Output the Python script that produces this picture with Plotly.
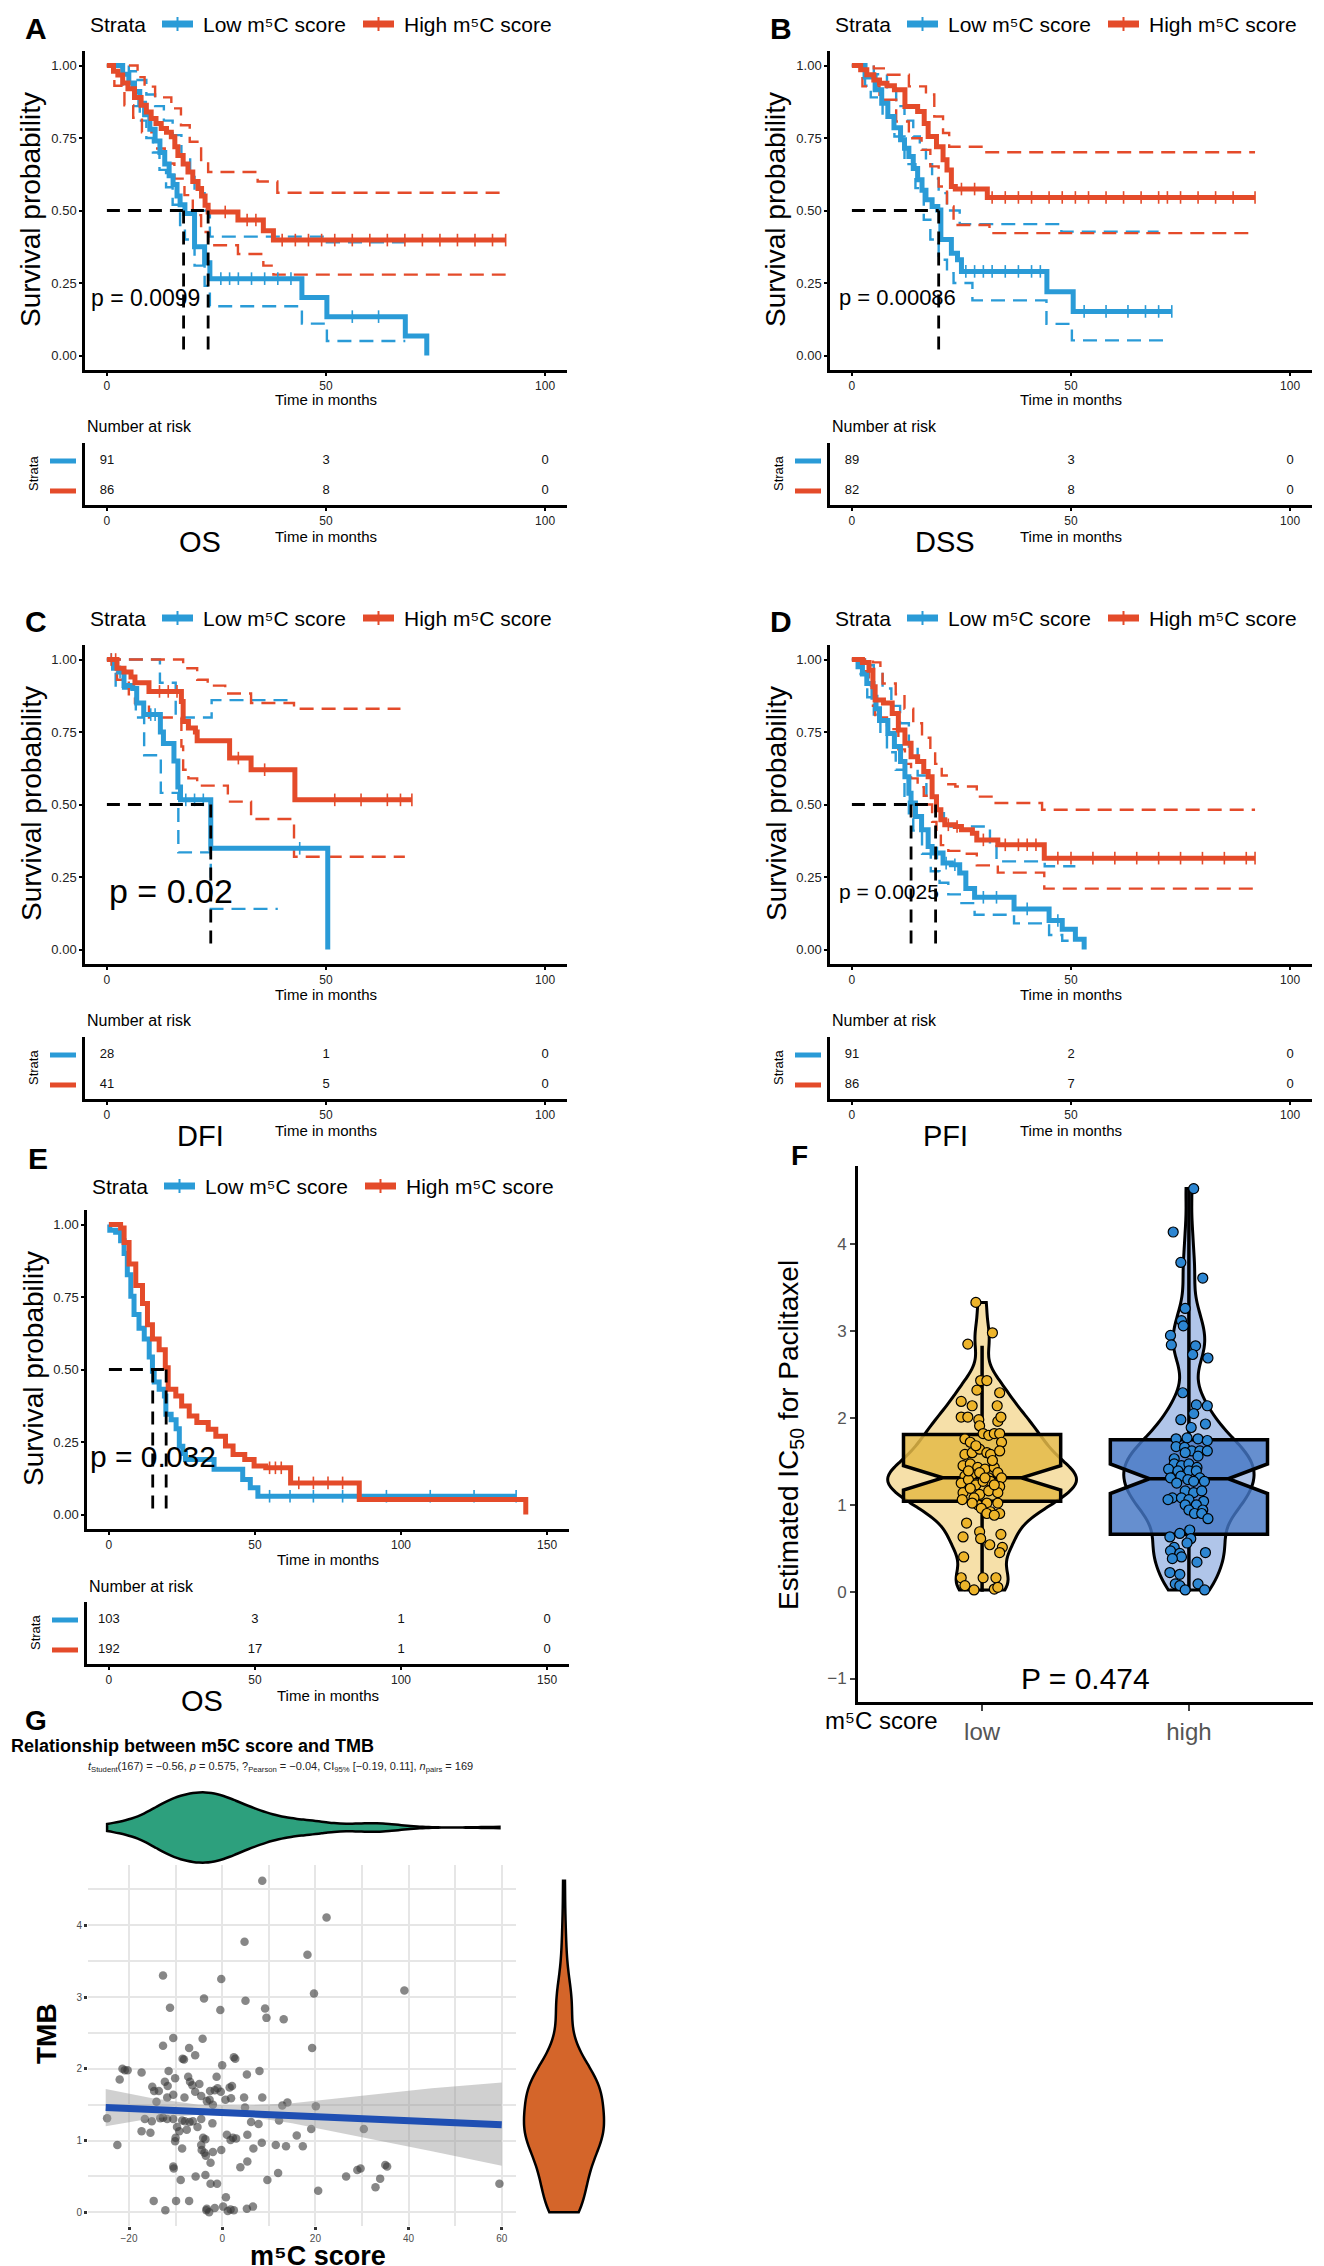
import numpy as np
import plotly.graph_objects as go

W, H = 1324, 2266
FONT = "Liberation Sans, Arial, Helvetica, sans-serif"
BLUE = "#2A9BD7"
RED = "#E44B2A"

# ---------------- A : OS ----------------
A_LOW_T = [0, 3.6, 5.0, 6.3, 7.5, 8.6, 9.8, 11.0, 12.1, 13.2, 14.2, 15.1, 16.0, 16.7, 17.8, 20.0, 22.3, 23.5, 44.5, 50.2, 68.1, 73.0]
A_LOW_S = [1.0, 0.97, 0.94, 0.91, 0.87, 0.83, 0.78, 0.74, 0.70, 0.66, 0.62, 0.59, 0.55, 0.52, 0.49, 0.375, 0.32, 0.265, 0.20, 0.134, 0.067, 0.0]
A_LOW_HI_T = [0, 5.0, 7.0, 9.0, 11.0, 13.0, 15.0, 17.0, 19.0, 20.0, 22.3, 23.5, 50.2, 68.1]
A_LOW_HI_S = [1.0, 0.98, 0.95, 0.90, 0.86, 0.81, 0.76, 0.69, 0.62, 0.56, 0.50, 0.41, 0.39, 0.39]
A_LOW_LO_T = [0, 3.6, 6.0, 7.5, 9.0, 10.5, 12.0, 13.5, 15.0, 16.7, 17.8, 20.0, 22.3, 23.5, 44.5, 50.2, 68.1]
A_LOW_LO_S = [1.0, 0.93, 0.86, 0.81, 0.75, 0.70, 0.64, 0.58, 0.52, 0.45, 0.40, 0.31, 0.24, 0.17, 0.11, 0.05, 0.05]
A_HIGH_T = [0, 1.5, 2.5, 3.6, 4.8, 6.3, 7.8, 9.0, 10.1, 11.2, 12.4, 13.6, 14.7, 15.5, 16.2, 17.4, 18.5, 19.6, 20.8, 21.6, 22.4, 23.1, 29.9, 35.7, 38.0, 91.0]
A_HIGH_S = [1.0, 0.98, 0.967, 0.94, 0.92, 0.89, 0.863, 0.84, 0.817, 0.80, 0.783, 0.77, 0.754, 0.72, 0.69, 0.66, 0.633, 0.60, 0.576, 0.55, 0.518, 0.495, 0.467, 0.43, 0.398, 0.398]
A_HIGH_HI_T = [0, 7.0, 8.6, 11.0, 14.7, 16.9, 18.9, 21.5, 23.1, 34.4, 38.9, 91.0]
A_HIGH_HI_S = [1.0, 0.96, 0.927, 0.89, 0.852, 0.794, 0.737, 0.674, 0.633, 0.60, 0.561, 0.561]
A_HIGH_LO_T = [0, 1.7, 4.0, 6.0, 8.0, 10.9, 13.2, 15.4, 17.7, 19.6, 21.5, 23.1, 29.9, 35.7, 38.0, 91.0]
A_HIGH_LO_S = [1.0, 0.93, 0.863, 0.82, 0.77, 0.714, 0.662, 0.61, 0.553, 0.484, 0.426, 0.38, 0.35, 0.31, 0.279, 0.279]
A_CENS_LOW = [26, 28, 30, 33, 36, 39, 42, 56, 62]
A_CENS_HIGH = [27, 32, 34, 40, 43, 46, 49, 52, 56, 60, 64, 68, 72, 76, 80, 84, 88, 91]
A_MEDIANS = [17.5, 23.1]
A_RISK_LOW = [91, 3, 0]
A_RISK_HIGH = [86, 8, 0]

# ---------------- B : DSS ----------------
B_LOW_T = [0, 3.0, 5.3, 6.8, 8.2, 9.6, 11.1, 12.0, 13.0, 14.0, 15.0, 16.0, 16.9, 18.3, 19.6, 20.3, 22.7, 24.1, 25.0, 44.5, 50.5, 73.0]
B_LOW_S = [1.0, 0.96, 0.916, 0.87, 0.824, 0.785, 0.744, 0.715, 0.686, 0.645, 0.606, 0.57, 0.537, 0.514, 0.502, 0.40, 0.353, 0.33, 0.29, 0.22, 0.152, 0.152]
B_LOW_HI_T = [0, 5.0, 8.0, 10.1, 12.0, 14.0, 15.5, 16.9, 18.3, 19.8, 21.7, 24.6, 47.8, 70.0]
B_LOW_HI_S = [1.0, 0.97, 0.92, 0.86, 0.81, 0.755, 0.71, 0.66, 0.61, 0.56, 0.50, 0.453, 0.427, 0.427]
B_LOW_LO_T = [0, 3.0, 4.3, 7.0, 9.7, 12.0, 14.5, 16.4, 17.9, 19.8, 21.7, 23.2, 27.5, 44.4, 50.2, 72.4]
B_LOW_LO_S = [1.0, 0.93, 0.89, 0.82, 0.755, 0.66, 0.577, 0.468, 0.40, 0.33, 0.284, 0.25, 0.19, 0.109, 0.052, 0.052]
B_HIGH_T = [0, 2.0, 3.4, 5.0, 6.3, 8.0, 9.7, 12.1, 15.0, 16.5, 17.4, 19.3, 20.8, 21.7, 22.7, 23.6, 30.9, 92.0]
B_HIGH_S = [1.0, 0.985, 0.968, 0.95, 0.939, 0.93, 0.916, 0.859, 0.841, 0.80, 0.755, 0.72, 0.675, 0.64, 0.583, 0.574, 0.545, 0.545]
B_HIGH_HI_T = [0, 5.0, 8.2, 13.0, 16.9, 18.8, 20.8, 22.2, 30.4, 92.0]
B_HIGH_HI_S = [1.0, 0.99, 0.968, 0.928, 0.90, 0.824, 0.767, 0.72, 0.701, 0.701]
B_HIGH_LO_T = [0, 2.4, 6.3, 10.1, 13.0, 15.9, 17.9, 19.8, 21.7, 23.2, 31.4, 92.0]
B_HIGH_LO_S = [1.0, 0.928, 0.882, 0.807, 0.749, 0.709, 0.652, 0.583, 0.514, 0.45, 0.422, 0.422]
B_CENS_LOW = [26, 28, 30, 32, 35, 38, 41, 43, 53, 58, 63, 67, 70, 73]
B_CENS_HIGH = [25, 28, 32, 35, 38, 41, 45, 48, 51, 54, 58, 62, 66, 70, 72, 75, 79, 83, 87, 92]
B_MEDIANS = [19.8]
B_RISK_LOW = [89, 3, 0]
B_RISK_HIGH = [82, 8, 0]

# ---------------- C : DFI ----------------
C_LOW_T = [0, 1.5, 2.7, 3.9, 5.9, 6.8, 8.4, 12.2, 12.9, 15.3, 16.2, 16.8, 23.7, 50.4]
C_LOW_S = [1.0, 0.97, 0.957, 0.91, 0.90, 0.85, 0.81, 0.75, 0.71, 0.65, 0.56, 0.516, 0.349, 0.0]
C_LOW_HI_T = [0, 12.1, 15.7, 23.9, 41.8]
C_LOW_HI_S = [1.0, 0.92, 0.80, 0.86, 0.86]
C_LOW_LO_T = [0, 2.0, 6.6, 8.5, 12.3, 16.3, 23.7, 39.0]
C_LOW_LO_S = [1.0, 0.90, 0.80, 0.67, 0.54, 0.335, 0.14, 0.14]
C_HIGH_T = [0, 2.3, 3.9, 5.5, 6.4, 9.6, 17.0, 17.4, 18.6, 20.2, 20.6, 28.0, 32.9, 42.9, 69.6]
C_HIGH_S = [1.0, 0.97, 0.957, 0.94, 0.92, 0.89, 0.855, 0.786, 0.764, 0.75, 0.72, 0.66, 0.62, 0.516, 0.516]
C_HIGH_HI_T = [0, 17.4, 20.6, 23.0, 27.0, 32.9, 42.7, 67.0]
C_HIGH_HI_S = [1.0, 0.97, 0.93, 0.91, 0.883, 0.85, 0.83, 0.83]
C_HIGH_LO_T = [0, 2.3, 5.0, 6.4, 9.6, 17.0, 17.4, 18.6, 20.6, 27.6, 32.9, 42.7, 68.0]
C_HIGH_LO_S = [1.0, 0.93, 0.88, 0.85, 0.80, 0.70, 0.62, 0.59, 0.565, 0.51, 0.45, 0.32, 0.32]
C_CENS_LOW = [1.0, 3.0, 10.0, 11.0, 18.0, 20.0, 22.0, 44.0]
C_CENS_HIGH = [1.0, 2.0, 12.0, 14.0, 16.0, 30.0, 36.0, 52.0, 58.0, 64.0, 67.0, 69.6]
C_MEDIANS = [23.7]
C_RISK_LOW = [28, 1, 0]
C_RISK_HIGH = [41, 5, 0]

# ---------------- D : PFI ----------------
D_LOW_T = [0, 1.4, 2.4, 3.4, 4.8, 5.5, 6.3, 8.2, 9.7, 11.1, 12.1, 13.0, 13.5, 14.5, 15.9, 17.4, 18.3, 20.8, 22.7, 24.6, 26.0, 28.0, 37.0, 45.0, 48.0, 51.0, 53.0]
D_LOW_S = [1.0, 0.975, 0.95, 0.917, 0.87, 0.83, 0.79, 0.745, 0.70, 0.648, 0.596, 0.539, 0.505, 0.459, 0.413, 0.355, 0.333, 0.298, 0.292, 0.264, 0.21, 0.18, 0.14, 0.10, 0.07, 0.035, 0.0]
D_LOW_HI_T = [0, 3.0, 5.0, 7.0, 9.0, 11.0, 13.0, 15.0, 17.0, 19.0, 21.0, 22.5, 31.5, 33.0, 44.0, 51.0]
D_LOW_HI_S = [1.0, 0.98, 0.95, 0.90, 0.84, 0.78, 0.70, 0.60, 0.53, 0.47, 0.44, 0.424, 0.36, 0.304, 0.287, 0.287]
D_LOW_LO_T = [0, 1.4, 3.5, 5.0, 6.5, 8.0, 10.0, 12.0, 13.0, 14.0, 16.0, 18.0, 20.0, 22.0, 25.0, 28.0, 37.0, 45.0, 48.0, 51.0]
D_LOW_LO_S = [1.0, 0.95, 0.87, 0.81, 0.74, 0.68, 0.62, 0.53, 0.47, 0.41, 0.33, 0.27, 0.23, 0.19, 0.16, 0.12, 0.09, 0.05, 0.03, 0.03]
D_HIGH_T = [0, 2.4, 3.9, 4.8, 5.3, 7.2, 9.2, 10.6, 12.1, 13.5, 15.0, 16.4, 17.4, 18.3, 19.3, 20.3, 21.2, 23.6, 25.0, 27.5, 28.5, 33.3, 43.9, 92.0]
D_HIGH_S = [1.0, 0.99, 0.963, 0.906, 0.86, 0.85, 0.814, 0.757, 0.711, 0.665, 0.648, 0.614, 0.596, 0.527, 0.482, 0.447, 0.43, 0.424, 0.413, 0.401, 0.378, 0.361, 0.315, 0.315]
D_HIGH_HI_T = [0, 4.8, 6.5, 7.0, 10.0, 12.0, 14.0, 16.0, 17.9, 19.0, 20.5, 22.0, 23.6, 28.5, 32.8, 43.4, 92.0]
D_HIGH_HI_S = [1.0, 0.99, 0.95, 0.917, 0.88, 0.83, 0.78, 0.73, 0.69, 0.64, 0.60, 0.57, 0.562, 0.527, 0.505, 0.482, 0.482]
D_HIGH_LO_T = [0, 2.4, 3.9, 4.8, 5.3, 8.0, 10.6, 12.1, 13.5, 15.0, 16.4, 17.4, 18.3, 19.3, 20.3, 22.0, 25.0, 28.5, 33.3, 43.9, 92.0]
D_HIGH_LO_S = [1.0, 0.96, 0.91, 0.84, 0.80, 0.76, 0.69, 0.64, 0.59, 0.56, 0.53, 0.50, 0.44, 0.40, 0.36, 0.34, 0.33, 0.29, 0.265, 0.21, 0.21]
D_CENS_LOW = [19.5, 21.5, 23.5, 30.0, 33.0, 40.0, 47.0]
D_CENS_HIGH = [22, 24, 30, 35, 38, 40, 42, 47, 50, 55, 60, 65, 70, 75, 80, 85, 90, 92]
D_MEDIANS = [13.5, 19.1]
D_RISK_LOW = [91, 2, 0]
D_RISK_HIGH = [86, 7, 0]

# ---------------- E : OS (no CI) ----------------
E_LOW_T = [0, 0.3, 2.3, 4.0, 5.2, 6.3, 7.5, 8.6, 10.3, 12.1, 13.8, 14.9, 15.5, 17.2, 19.0, 19.5, 21.3, 23.0, 24.1, 25.3, 26.2, 36.0, 45.8, 48.4, 51.0, 139.4]
E_LOW_S = [1.0, 0.98, 0.973, 0.944, 0.90, 0.827, 0.753, 0.69, 0.642, 0.605, 0.543, 0.494, 0.457, 0.432, 0.409, 0.346, 0.327, 0.296, 0.235, 0.21, 0.19, 0.156, 0.121, 0.092, 0.063, 0.063]
E_HIGH_T = [0, 4.0, 5.2, 6.9, 9.2, 11.5, 13.2, 14.9, 17.2, 19.3, 20.3, 22.9, 24.9, 27.5, 30.1, 34.0, 36.6, 39.9, 42.5, 46.5, 49.7, 53.7, 62.2, 85.7, 142.7]
E_HIGH_S = [1.0, 0.988, 0.938, 0.864, 0.79, 0.728, 0.654, 0.605, 0.568, 0.506, 0.432, 0.409, 0.374, 0.34, 0.317, 0.294, 0.27, 0.236, 0.207, 0.19, 0.167, 0.161, 0.109, 0.052, 0.0]
E_CENS_LOW = [55, 62, 70, 80, 95, 110, 125, 139.4]
E_CENS_HIGH = [55, 57, 59, 65, 70, 75, 80]
E_MEDIANS = [15.0, 19.6]
E_RISK_LOW = [103, 3, 1, 0]
E_RISK_HIGH = [192, 17, 1, 0]

RISK_T_100 = [0, 50, 100]
RISK_T_150 = [0, 50, 100, 150]

# ---------------- F : IC50 ----------------
F_LOW_Y = [3.33, 2.98, 2.85, 2.43, 2.43, 2.32, 2.29, 2.19, 2.14, 2.14, 2.01, 2.01, 1.98, 1.96, 2.01, 1.91,
           1.76, 1.72, 1.82, 1.80, 1.82, 1.82, 1.72, 1.58, 1.60, 1.64, 1.60, 1.58, 1.62, 1.45, 1.47, 1.43,
           1.41, 1.43, 1.33, 1.35, 1.37, 1.31, 1.37, 1.31, 1.25, 1.29, 1.23, 1.27, 1.21, 1.14, 1.19, 1.12,
           1.16, 1.14, 1.06, 1.00, 1.02, 1.02, 0.96, 0.92, 0.90, 0.90, 0.88, 0.79, 0.69, 0.63, 0.66, 0.61,
           0.54, 0.51, 0.45, 0.40, 0.16, 0.16, 0.16, 0.07, 0.02, 0.03, 0.05, 1.39, 1.27, 1.08, 1.51, 1.68,
           1.31, 1.23, 1.02]
F_LOW_DX = [-0.030, 0.050, -0.069, -0.007, 0.023, -0.025, 0.085, -0.101, -0.048, 0.073, -0.101, -0.069, -0.016, 0.076, 0.091, -0.012,
            -0.083, -0.057, 0.005, 0.032, 0.059, 0.085, 0.094, -0.083, -0.048, -0.012, 0.023, 0.041, 0.085, -0.092, -0.057, -0.021,
            0.014, 0.059, -0.083, -0.048, -0.012, 0.032, 0.076, 0.094, -0.101, -0.066, -0.030, 0.041, 0.085, -0.092, -0.057, -0.012,
            0.032, 0.076, -0.096, -0.021, 0.023, 0.076, -0.004, 0.041, 0.085, 0.023, 0.059, -0.075, -0.012, -0.092, 0.091, -0.007,
            0.037, 0.098, 0.085, -0.089, -0.101, 0.005, 0.067, -0.083, -0.039, 0.059, 0.076, -0.066, 0.005, -0.039, 0.050, -0.030,
            0.014, 0.059, -0.048]
F_HIGH_Y = [4.64, 4.14, 3.79, 3.61, 3.26, 3.12, 3.06, 2.95, 2.84, 2.83, 2.73, 2.69, 2.29, 2.15, 2.14, 2.05, 1.98,
            1.89, 1.93, 1.76, 1.77, 1.76, 1.74, 1.67, 1.66, 1.62, 1.62, 1.62, 1.53, 1.60, 1.56, 1.47, 1.45, 1.47,
            1.43, 1.41, 1.39, 1.39, 1.39, 1.31, 1.33, 1.29, 1.31, 1.25, 1.27, 1.27, 1.16, 1.14, 1.16, 1.08, 1.08,
            1.06, 1.06, 1.04, 1.00, 1.00, 0.94, 0.94, 0.90, 0.90, 0.84, 0.71, 0.67, 0.63, 0.61, 0.56, 0.51, 0.47,
            0.44, 0.45, 0.40, 0.38, 0.34, 0.22, 0.20, 0.09, 0.07, 0.09, 0.02, 0.02]
F_HIGH_DX = [0.023, -0.076, -0.039, 0.067, -0.018, -0.036, -0.027, -0.089, -0.085, 0.032, 0.018, 0.092, -0.030, 0.036, 0.089, 0.023, -0.039,
             0.011, 0.080, -0.062, -0.009, 0.044, 0.089, -0.062, -0.021, 0.014, 0.053, 0.089, -0.071, -0.018, 0.044, -0.071, -0.036, 0.0,
             0.039, -0.098, -0.053, 0.0, 0.036, -0.089, -0.039, -0.005, 0.053, -0.059, 0.023, 0.075, -0.018, 0.023, 0.062, -0.080, -0.036,
             -0.101, 0.0, 0.071, -0.018, 0.036, 0.0, 0.067, 0.027, 0.062, 0.092, 0.004, -0.044, -0.092, 0.009, -0.009, -0.071, -0.089,
             -0.044, 0.080, -0.036, -0.080, 0.039, -0.092, -0.044, -0.066, -0.044, 0.044, -0.018, 0.076]
F_GROUPS = ["low", "high"]
F_Q1 = [1.04, 0.66]
F_MEDIAN = [1.31, 1.30]
F_Q3 = [1.81, 1.75]
F_LOWER = [0.0, 0.0]
F_UPPER = [2.83, 4.64]
F_NOTCH = [0.14, 0.17]
F_P = "P = 0.474"

# ---------------- G : m5C score vs TMB ----------------
G_X = [8.6, 22.4, 4.8, 18.3, -12.7, -0.2, 39.1, 19.7, -3.9, 5.0,
       -11.2, -0.4, 9.2, 9.5, 13.2, -10.5, -4.2, -12.7, -7.1, 19.3,
       -5.8, 2.5, 2.8, -8.5, -8.2, -21.4, -20.9, -20.3, 0.0, -11.5,
       8.0, -17.3, -1.2, 5.3, -7.3, -10.1, -22.0, -12.3, -6.9, -4.9,
       -11.7, -6.4, -15.0, 2.1, 1.6, -1.0, -14.6, -13.6, -5.8, -2.6,
       -1.6, -0.3, -10.5, -8.1, -4.5, -11.8, -2.7, 0.7, 1.9, 4.7,
       8.6, -3.3, -14.1, 14.0, 12.9, -2.0, 4.9, 20.1, -24.7, -16.6,
       -15.1, -12.7, -13.3, -11.8, -10.5, -8.6, -8.0, -6.3, -4.5, -7.0,
       -2.1, 6.2, 7.8, 12.2, -17.3, -15.4, -9.7, -9.2, -7.6, -5.3,
       19.1, 30.4, -10.0, -10.1, -4.1, -3.6, 1.0, 2.3, 3.0, 1.8,
       5.4, 8.5, 11.5, 13.7, 16.0, 17.3, -22.5, -8.6, -4.5, -4.4,
       -3.8, -2.0, -0.2, -3.5, 6.7, -2.5, 5.4, -10.5, -10.4, 3.9,
       29.7, 29.0, 35.0, 35.4, 12.0, -5.7, -3.6, 26.6, 33.9, 9.7,
       -8.9, -2.5, -1.1, 59.5, 32.9, 20.6, 0.8, -14.7, -9.9, -7.1,
       -12.2, -3.3, -3.4, -1.6, 0.2, 1.8, 2.5, 1.2, 5.3, 6.6,
       -2.8]
G_Y = [4.62, 4.11, 3.77, 3.59, 3.30, 3.25, 3.09, 3.05, 2.98, 2.95,
       2.85, 2.82, 2.84, 2.71, 2.69, 2.43, 2.42, 2.32, 2.29, 2.29,
       2.19, 2.16, 2.14, 2.14, 2.13, 2.00, 1.98, 1.98, 2.05, 1.97,
       1.97, 1.95, 1.89, 1.92, 1.89, 1.87, 1.85, 1.82, 1.82, 1.79,
       1.76, 1.77, 1.75, 1.76, 1.74, 1.73, 1.69, 1.69, 1.68, 1.69,
       1.70, 1.68, 1.64, 1.60, 1.62, 1.60, 1.57, 1.57, 1.59, 1.60,
       1.60, 1.55, 1.54, 1.53, 1.49, 1.50, 1.46, 1.48, 1.31, 1.30,
       1.27, 1.32, 1.31, 1.30, 1.30, 1.28, 1.27, 1.27, 1.30, 1.26,
       1.24, 1.26, 1.23, 1.28, 1.13, 1.11, 1.19, 1.13, 1.15, 1.19,
       1.16, 1.16, 1.04, 0.99, 1.04, 1.02, 1.08, 1.04, 1.03, 1.01,
       1.08, 0.97, 0.94, 0.92, 1.07, 0.92, 0.94, 0.89, 0.94, 0.87,
       0.83, 0.84, 0.87, 0.79, 0.89, 0.69, 0.71, 0.64, 0.61, 0.63,
       0.61, 0.59, 0.66, 0.64, 0.55, 0.50, 0.52, 0.50, 0.47, 0.45,
       0.45, 0.40, 0.40, 0.40, 0.35, 0.30, 0.21, 0.16, 0.16, 0.16,
       0.03, 0.05, 0.03, 0.06, 0.08, 0.04, 0.03, 0.02, 0.05, 0.08,
       0.0]
G_FIT_X = [-25, 60]
G_FIT_Y = [1.46, 1.22]
G_BAND_X = [-25, -15, -5, 5, 15, 25, 35, 45, 60]
G_BAND_LO = [1.20, 1.31, 1.36, 1.34, 1.24, 1.11, 0.98, 0.85, 0.65]
G_BAND_HI = [1.72, 1.59, 1.50, 1.49, 1.52, 1.59, 1.66, 1.73, 1.81]
G_TITLE = "Relationship between m5C score and TMB"
G_SUB = ("<i>t</i><sub>Student</sub>(167) = \u22120.56, <i>p</i> = 0.575, ?<sub>Pearson</sub> = \u22120.04, "
         "CI<sub>95%</sub> [\u22120.19, 0.11], <i>n</i><sub>pairs</sub> = 169")

LOW_LABEL = "Low m\u2075C score"
HIGH_LABEL = "High m\u2075C score"

fig = go.Figure()


def px_x(p):
    return p / W


def px_y(p):
    return 1 - p / H


n_axes = [0]


def add_axes(xpx, ypx, xrange, yrange, xkw=None, ykw=None):
    n_axes[0] += 1
    s = "" if n_axes[0] == 1 else str(n_axes[0])
    xa = dict(domain=[px_x(xpx[0]), px_x(xpx[1])], range=xrange, anchor="y" + s,
              showgrid=False, zeroline=False, showline=True, linecolor="black", linewidth=2.5,
              ticks="outside", ticklen=3, tickwidth=1.5, tickcolor="black",
              tickfont=dict(family=FONT, size=12, color="#222"))
    ya = dict(domain=[px_y(ypx[1]), px_y(ypx[0])], range=yrange, anchor="x" + s,
              showgrid=False, zeroline=False, showline=True, linecolor="black", linewidth=2.5,
              ticks="outside", ticklen=3, tickwidth=1.5, tickcolor="black",
              tickfont=dict(family=FONT, size=13, color="#222"))
    xa.update(xkw or {})
    ya.update(ykw or {})
    fig.update_layout({"xaxis" + s: xa, "yaxis" + s: ya})
    return "x" + s, "y" + s


def text(x, y, s, size, color="black", **kw):
    kw.setdefault("xanchor", "center")
    kw.setdefault("yanchor", "middle")
    fig.add_annotation(x=px_x(x), y=px_y(y), xref="paper", yref="paper", text=s,
                       showarrow=False, font=dict(family=FONT, size=size, color=color), **kw)


def paper_line(x0, y0, x1, y1, color, width):
    fig.add_shape(type="line", xref="paper", yref="paper", x0=px_x(x0), y0=px_y(y0),
                  x1=px_x(x1), y1=px_y(y1), line=dict(color=color, width=width))


def step_at(t, s, c):
    idx = np.searchsorted(np.asarray(t), np.asarray(c), side="right") - 1
    return np.asarray(s)[np.clip(idx, 0, len(s) - 1)]


def km_panel(x0, top, letter, letter_y, legend_y, low, high, low_ci, high_ci,
             cens_low, cens_high, medians, risk_t, risk_low, risk_high,
             p_label, p_x, p_size, end_label, t_max):
    xr = [-0.05 * t_max, 1.05 * t_max]
    xa, ya = add_axes((x0, x0 + 482), (top + 43, top + 362), xr, [-0.05, 1.05],
                      dict(tickvals=risk_t),
                      dict(tickvals=[0, 0.25, 0.5, 0.75, 1.0],
                           ticktext=["0.00", "0.25", "0.50", "0.75", "1.00"]))
    dash_ci = "14px,8px"
    for ci, col in ((low_ci, BLUE), (high_ci, RED)):
        for t, s in ci:
            fig.add_trace(go.Scatter(x=t, y=s, mode="lines", line_shape="hv",
                                     line=dict(color=col, width=2.4, dash=dash_ci),
                                     xaxis=xa, yaxis=ya, hoverinfo="skip"))
    for (t, s), col, cens in ((low, BLUE, cens_low), (high, RED, cens_high)):
        fig.add_trace(go.Scatter(x=t, y=s, mode="lines", line_shape="hv",
                                 line=dict(color=col, width=5), xaxis=xa, yaxis=ya))
        fig.add_trace(go.Scatter(x=cens, y=step_at(t, s, cens), mode="markers",
                                 marker=dict(symbol="line-ns", size=9, line=dict(color=col, width=1.6)),
                                 xaxis=xa, yaxis=ya))
    # median survival lines
    fig.add_trace(go.Scatter(x=[0, max(medians)], y=[0.5, 0.5], mode="lines",
                             line=dict(color="black", width=2.8, dash="13px,8px"), xaxis=xa, yaxis=ya))
    for m in medians:
        fig.add_trace(go.Scatter(x=[m, m], y=[0.5, 0], mode="lines",
                                 line=dict(color="black", width=2.8, dash="13px,8px"), xaxis=xa, yaxis=ya))
    fig.add_annotation(x=p_x, y=0.2, xref=xa, yref=ya, text=p_label, showarrow=False,
                       xanchor="left", yanchor="middle", font=dict(family=FONT, size=p_size, color="black"))

    # letter, legend, titles
    text(x0 - 49, letter_y, "<b>%s</b>" % letter, 30)
    text(x0 + 3, legend_y, "Strata", 21, xanchor="left")
    for off, col, lab in ((77, BLUE, LOW_LABEL), (278, RED, HIGH_LABEL)):
        paper_line(x0 + off, legend_y, x0 + off + 31, legend_y, col, 7)
        paper_line(x0 + off + 15.5, legend_y - 7, x0 + off + 15.5, legend_y + 7, col, 2)
        text(x0 + off + 39, legend_y, lab, 21, xanchor="left")
    text(x0 - 54, top + 202, "Survival probability", 28, textangle=-90)
    text(x0 + 241, top + 392, "Time in months", 15)

    # risk table
    text(x0, top + 419, "Number at risk", 16, xanchor="left")
    xt, yt = add_axes((x0, x0 + 482), (top + 435, top + 497), xr, [-0.467, 1.6],
                      dict(tickvals=risk_t),
                      dict(type="category", categoryarray=[HIGH_LABEL, LOW_LABEL],
                           showticklabels=False, ticks=""))
    for vals, lab in ((risk_low, LOW_LABEL), (risk_high, HIGH_LABEL)):
        fig.add_trace(go.Scatter(x=risk_t, y=[lab] * len(risk_t), mode="text",
                                 text=[str(v) for v in vals],
                                 textfont=dict(family=FONT, size=13, color="#111"),
                                 xaxis=xt, yaxis=yt))
    for row, col in ((1, BLUE), (0, RED)):
        fig.add_shape(type="line", xref="paper", yref=yt, x0=px_x(x0 - 35), x1=px_x(x0 - 9),
                      y0=row, y1=row, line=dict(color=col, width=5))
    text(x0 - 52, top + 466, "Strata", 13, textangle=-90)
    text(x0 + 241, top + 528, "Time in months", 15)
    text(x0 + 115, top + 534, end_label, 29)


XL, XR = 77, 822
km_panel(XL, 0, "A", 20, 16, (A_LOW_T, A_LOW_S), (A_HIGH_T, A_HIGH_S),
         [(A_LOW_HI_T, A_LOW_HI_S), (A_LOW_LO_T, A_LOW_LO_S)],
         [(A_HIGH_HI_T, A_HIGH_HI_S), (A_HIGH_LO_T, A_HIGH_LO_S)],
         A_CENS_LOW, A_CENS_HIGH, A_MEDIANS, RISK_T_100, A_RISK_LOW, A_RISK_HIGH,
         "p = 0.0099", -4.0, 23, "OS", 100)
km_panel(XR, 0, "B", 20, 16, (B_LOW_T, B_LOW_S), (B_HIGH_T, B_HIGH_S),
         [(B_LOW_HI_T, B_LOW_HI_S), (B_LOW_LO_T, B_LOW_LO_S)],
         [(B_HIGH_HI_T, B_HIGH_HI_S), (B_HIGH_LO_T, B_HIGH_LO_S)],
         B_CENS_LOW, B_CENS_HIGH, B_MEDIANS, RISK_T_100, B_RISK_LOW, B_RISK_HIGH,
         "p = 0.00086", -3.5, 22, "DSS", 100)
km_panel(XL, 594, "C", 613, 610, (C_LOW_T, C_LOW_S), (C_HIGH_T, C_HIGH_S),
         [(C_LOW_HI_T, C_LOW_HI_S), (C_LOW_LO_T, C_LOW_LO_S)],
         [(C_HIGH_HI_T, C_HIGH_HI_S), (C_HIGH_LO_T, C_HIGH_LO_S)],
         C_CENS_LOW, C_CENS_HIGH, C_MEDIANS, RISK_T_100, C_RISK_LOW, C_RISK_HIGH,
         "p = 0.02", 0.0, 34, "DFI", 100)
km_panel(XR, 594, "D", 613, 610, (D_LOW_T, D_LOW_S), (D_HIGH_T, D_HIGH_S),
         [(D_LOW_HI_T, D_LOW_HI_S), (D_LOW_LO_T, D_LOW_LO_S)],
         [(D_HIGH_HI_T, D_HIGH_HI_S), (D_HIGH_LO_T, D_HIGH_LO_S)],
         D_CENS_LOW, D_CENS_HIGH, D_MEDIANS, RISK_T_100, D_RISK_LOW, D_RISK_HIGH,
         "p = 0.0025", -3.5, 21, "PFI", 100)
km_panel(79, 1159, "E", 1150, 1178, (E_LOW_T, E_LOW_S), (E_HIGH_T, E_HIGH_S), [], [],
         E_CENS_LOW, E_CENS_HIGH, E_MEDIANS, RISK_T_150, E_RISK_LOW, E_RISK_HIGH,
         "p = 0.032", -7.0, 30, "OS", 150)

# ---------------- F ----------------
xf, yf = add_axes((850, 1305), (1158, 1694), [0.4, 2.6], [-1.27, 4.9],
                  dict(type="linear", tickvals=[1, 2], ticktext=F_GROUPS, linewidth=3, ticklen=6,
                       tickcolor="#444", tickfont=dict(family=FONT, size=24, color="#555")),
                  dict(tickvals=[-1, 0, 1, 2, 3, 4], linewidth=3, ticklen=5, tickcolor="#444",
                       tickfont=dict(family=FONT, size=17, color="#555")))
F_STYLE = [
    dict(vfill="rgba(243,214,140,0.75)", bfill="rgba(228,186,72,0.85)", pt="#EDB42A", vw=0.91, bw=0.18),
    dict(vfill="rgba(150,178,226,0.75)", bfill="rgba(68,118,196,0.82)", pt="#2D86D2", vw=0.63, bw=0.22),
]
for i, (vals, dx) in enumerate(((F_LOW_Y, F_LOW_DX), (F_HIGH_Y, F_HIGH_DX))):
    st = F_STYLE[i]
    fig.add_trace(go.Violin(y=vals, x0=i + 1, width=st["vw"], spanmode="hard", bandwidth=st["bw"],
                            fillcolor=st["vfill"], line=dict(color="black", width=3),
                            points=False, box_visible=False, meanline_visible=False,
                            scalemode="width", xaxis=xf, yaxis=yf, hoverinfo="skip"))
for i in range(2):
    st = F_STYLE[i]
    fig.add_trace(go.Box(x=[i + 1], q1=[F_Q1[i]], median=[F_MEDIAN[i]], q3=[F_Q3[i]],
                         lowerfence=[F_LOWER[i]], upperfence=[F_UPPER[i]],
                         notched=True, notchspan=[F_NOTCH[i]], notchwidth=0.25, width=0.76,
                         whiskerwidth=0, fillcolor=st["bfill"], line=dict(color="black", width=3.5),
                         boxpoints=False, xaxis=xf, yaxis=yf))
for i, (vals, dx) in enumerate(((F_LOW_Y, F_LOW_DX), (F_HIGH_Y, F_HIGH_DX))):
    fig.add_trace(go.Scatter(x=np.array(dx) + i + 1, y=vals, mode="markers",
                             marker=dict(size=10, color=F_STYLE[i]["pt"], line=dict(color="black", width=1.2)),
                             xaxis=xf, yaxis=yf))
fig.add_annotation(x=1.5, y=-1, xref=xf, yref=yf, text=F_P, showarrow=False,
                   font=dict(family=FONT, size=30, color="black"))
text(791, 1147, "<b>F</b>", 28)
text(782, 1427, "Estimated IC<sub>50</sub> for Paclitaxel", 28, textangle=-90)
text(932, 1712, "m\u2075C score", 24, xanchor="right")

# ---------------- G ----------------
GRID = "#E6E6E6"
G_TOP, G_BOT = 1857, 2218
xg, yg = add_axes((80, 511), (G_TOP, G_BOT), [-28.8, 63.7], [-0.19, 4.84],
                  dict(showline=False, showgrid=True, gridcolor=GRID, gridwidth=2,
                       tickvals=[-20, 0, 20, 40, 60], ticklen=3, tickwidth=2.5, tickcolor="#333",
                       tickfont=dict(family=FONT, size=10, color="#4D4D4D"),
                       minor=dict(tickvals=[-10, 10, 30, 50], showgrid=True, gridcolor=GRID, gridwidth=1.5, ticks="")),
                  dict(showline=False, showgrid=True, gridcolor=GRID, gridwidth=2,
                       tickvals=[0, 1, 2, 3, 4], ticklen=3, tickwidth=2.5, tickcolor="#333",
                       tickfont=dict(family=FONT, size=10, color="#4D4D4D"),
                       minor=dict(tickvals=[0.5, 1.5, 2.5, 3.5, 4.5], showgrid=True, gridcolor=GRID, gridwidth=1.5, ticks="")))
xgt, ygt = add_axes((80, 511), (1783, 1856), [-28.8, 63.7], [-0.52, 0.52],
                    dict(visible=False), dict(visible=False))
xgr, ygr = add_axes((508, 604), (G_TOP, G_BOT), [-0.6, 0.6], [-0.19, 4.84],
                    dict(visible=False), dict(visible=False))

fig.add_trace(go.Scatter(x=G_X, y=G_Y, mode="markers",
                         marker=dict(size=8.5, color="rgba(55,55,55,0.6)"), xaxis=xg, yaxis=yg))
fig.add_trace(go.Scatter(x=G_BAND_X + G_BAND_X[::-1], y=G_BAND_HI + G_BAND_LO[::-1], fill="toself",
                         mode="lines", line=dict(width=0), fillcolor="rgba(150,150,150,0.45)",
                         xaxis=xg, yaxis=yg, hoverinfo="skip"))
fig.add_trace(go.Scatter(x=G_FIT_X, y=G_FIT_Y, mode="lines", line=dict(color="#1F4FB3", width=7),
                         xaxis=xg, yaxis=yg))
fig.add_trace(go.Violin(x=G_X, y0=0, orientation="h", width=1.0, spanmode="hard", bandwidth=4.0,
                        fillcolor="#2DA07D", line=dict(color="black", width=2.5), points=False,
                        box_visible=False, meanline_visible=False, xaxis=xgt, yaxis=ygt, hoverinfo="skip"))
fig.add_trace(go.Violin(y=G_Y, x0=0, width=1.0, spanmode="hard", bandwidth=0.28,
                        fillcolor="#D4652A", line=dict(color="black", width=2.5), points=False,
                        box_visible=False, meanline_visible=False, xaxis=xgr, yaxis=ygr, hoverinfo="skip"))

text(28, 1712, "<b>G</b>", 28)
text(1, 1738, "<b>%s</b>" % G_TITLE, 18, xanchor="left")
text(272, 1759, G_SUB, 11, color="#222")
text(38, 2026, "<b>TMB</b>", 28, textangle=-90)
text(310, 2248, "<b>m\u2075C score</b>", 27)

fig.update_layout(width=W, height=H, margin=dict(l=0, r=0, t=0, b=0), template="none",
                  paper_bgcolor="white", plot_bgcolor="white", showlegend=False,
                  font=dict(family=FONT))
fig.write_html("out.html")
